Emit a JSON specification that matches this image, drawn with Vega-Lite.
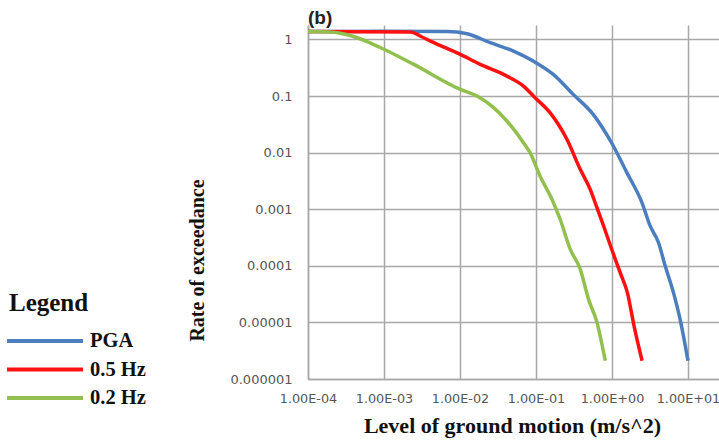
{
  "$schema": "https://vega.github.io/schema/vega-lite/v6.json",
  "width": 411,
  "height": 354,
  "autosize": {"type": "none"},
  "padding": {"left": 308, "top": 25, "right": 0, "bottom": 61},
  "background": "white",
  "title": {
    "text": "(b)",
    "anchor": "start",
    "frame": "group",
    "baseline": "alphabetic",
    "offset": -19,
    "font": "Liberation Sans",
    "fontSize": 19,
    "fontWeight": "bold",
    "color": "#222222"
  },
  "data": {
    "values": [
      {"series": "PGA", "x": 0.0001, "y": 1.38},
      {"series": "PGA", "x": 0.000905, "y": 1.39},
      {"series": "PGA", "x": 0.00678, "y": 1.38},
      {"series": "PGA", "x": 0.0124, "y": 1.26},
      {"series": "PGA", "x": 0.025, "y": 0.875},
      {"series": "PGA", "x": 0.0506, "y": 0.622},
      {"series": "PGA", "x": 0.0925, "y": 0.414},
      {"series": "PGA", "x": 0.169, "y": 0.241},
      {"series": "PGA", "x": 0.309, "y": 0.107},
      {"series": "PGA", "x": 0.565, "y": 0.0475},
      {"series": "PGA", "x": 1.0, "y": 0.0145},
      {"series": "PGA", "x": 1.57, "y": 0.00443},
      {"series": "PGA", "x": 2.48, "y": 0.00131},
      {"series": "PGA", "x": 3.18, "y": 0.000507},
      {"series": "PGA", "x": 4.09, "y": 0.000258},
      {"series": "PGA", "x": 5.01, "y": 0.0000998},
      {"series": "PGA", "x": 6.43, "y": 0.0000339},
      {"series": "PGA", "x": 7.87, "y": 0.0000114},
      {"series": "PGA", "x": 10, "y": 0.0000021},
      {"series": "0.5 Hz", "x": 0.0001, "y": 1.38},
      {"series": "0.5 Hz", "x": 0.00224, "y": 1.36},
      {"series": "0.5 Hz", "x": 0.00303, "y": 1.14},
      {"series": "0.5 Hz", "x": 0.00409, "y": 0.933},
      {"series": "0.5 Hz", "x": 0.0101, "y": 0.544},
      {"series": "0.5 Hz", "x": 0.0185, "y": 0.362},
      {"series": "0.5 Hz", "x": 0.0414, "y": 0.225},
      {"series": "0.5 Hz", "x": 0.0684, "y": 0.15},
      {"series": "0.5 Hz", "x": 0.0973, "y": 0.0935},
      {"series": "0.5 Hz", "x": 0.153, "y": 0.0508},
      {"series": "0.5 Hz", "x": 0.255, "y": 0.0172},
      {"series": "0.5 Hz", "x": 0.382, "y": 0.00507},
      {"series": "0.5 Hz", "x": 0.517, "y": 0.00225},
      {"series": "0.5 Hz", "x": 0.634, "y": 0.00107},
      {"series": "0.5 Hz", "x": 0.775, "y": 0.000507},
      {"series": "0.5 Hz", "x": 1.0, "y": 0.00019},
      {"series": "0.5 Hz", "x": 1.29, "y": 0.000074},
      {"series": "0.5 Hz", "x": 1.6, "y": 0.000033},
      {"series": "0.5 Hz", "x": 1.95, "y": 0.0000087},
      {"series": "0.5 Hz", "x": 2.49, "y": 0.0000021},
      {"series": "0.2 Hz", "x": 0.0001, "y": 1.38},
      {"series": "0.2 Hz", "x": 0.000195, "y": 1.36},
      {"series": "0.2 Hz", "x": 0.00039, "y": 1.14},
      {"series": "0.2 Hz", "x": 0.000905, "y": 0.714},
      {"series": "0.2 Hz", "x": 0.00247, "y": 0.362},
      {"series": "0.2 Hz", "x": 0.0101, "y": 0.131},
      {"series": "0.2 Hz", "x": 0.0167, "y": 0.1},
      {"series": "0.2 Hz", "x": 0.0277, "y": 0.0624},
      {"series": "0.2 Hz", "x": 0.0414, "y": 0.0362},
      {"series": "0.2 Hz", "x": 0.0684, "y": 0.015},
      {"series": "0.2 Hz", "x": 0.0836, "y": 0.01},
      {"series": "0.2 Hz", "x": 0.113, "y": 0.00386},
      {"series": "0.2 Hz", "x": 0.162, "y": 0.0015},
      {"series": "0.2 Hz", "x": 0.208, "y": 0.000665},
      {"series": "0.2 Hz", "x": 0.282, "y": 0.000197},
      {"series": "0.2 Hz", "x": 0.382, "y": 0.0000873},
      {"series": "0.2 Hz", "x": 0.491, "y": 0.0000258},
      {"series": "0.2 Hz", "x": 0.634, "y": 0.00001},
      {"series": "0.2 Hz", "x": 0.816, "y": 0.0000021}
    ]
  },
  "mark": {"type": "line", "strokeWidth": 3.5, "interpolate": "monotone"},
  "encoding": {
    "x": {
      "field": "x",
      "type": "quantitative",
      "scale": {"type": "log", "domain": [0.0001, 25.6], "nice": false},
      "axis": {
        "values": [0.0001, 0.001, 0.01, 0.1, 1, 10],
        "labelExpr": "'1.00E' + (datum.value < 0.9 ? '-0' + round(-log(datum.value)/LN10) : '+0' + round(log(datum.value)/LN10))",
        "labelPadding": 13,
        "labelFontSize": 12.8,
        "labelFlush": false,
        "labelOverlap": false,
        "labelBound": false,
        "title": "Level of ground motion (m/s^2)",
        "titleX": 204,
        "titleY": 53,
        "titleBaseline": "alphabetic",
        "titleAlign": "center",
        "titleFontSize": 22
      }
    },
    "y": {
      "field": "y",
      "type": "quantitative",
      "scale": {"type": "log", "domain": [0.000001, 1.8], "nice": false},
      "axis": {
        "values": [0.000001, 0.00001, 0.0001, 0.001, 0.01, 0.1, 1],
        "format": "~f",
        "labelPadding": 16,
        "labelOverlap": false,
        "title": "Rate of exceedance",
        "titleX": -105,
        "titleY": 235,
        "titleAngle": -90,
        "titleBaseline": "alphabetic",
        "titleAlign": "center",
        "titleFontSize": 20
      }
    },
    "color": {
      "field": "series",
      "type": "nominal",
      "scale": {"domain": ["PGA", "0.5 Hz", "0.2 Hz"], "range": ["#4a7ebf", "#ff1010", "#92c04f"]},
      "legend": {
        "title": "Legend",
        "orient": "none",
        "legendX": -299,
        "legendY": 266,
        "symbolType": "M-1.44,0H7",
        "symbolSize": 324,
        "symbolStrokeWidth": 4,
        "labelOffset": 59,
        "rowPadding": 6.5,
        "titlePadding": 14,
        "padding": 0,
        "labelFont": "Liberation Serif",
        "labelFontSize": 20.5,
        "labelFontWeight": "bold",
        "labelColor": "#111111",
        "titleFont": "Liberation Serif",
        "titleFontSize": 25,
        "titleFontWeight": "bold",
        "titleColor": "#111111"
      }
    }
  },
  "config": {
    "view": {"stroke": null},
    "axis": {
      "grid": true,
      "gridColor": "#a8a8a8",
      "gridWidth": 1.5,
      "gridOpacity": 1,
      "domainColor": "#a8a8a8",
      "domainWidth": 1.5,
      "ticks": false,
      "labelFont": "DejaVu Sans",
      "labelFontSize": 13,
      "labelColor": "#555555",
      "titleFont": "Liberation Serif",
      "titleFontWeight": "bold",
      "titleColor": "#111111"
    }
  }
}
